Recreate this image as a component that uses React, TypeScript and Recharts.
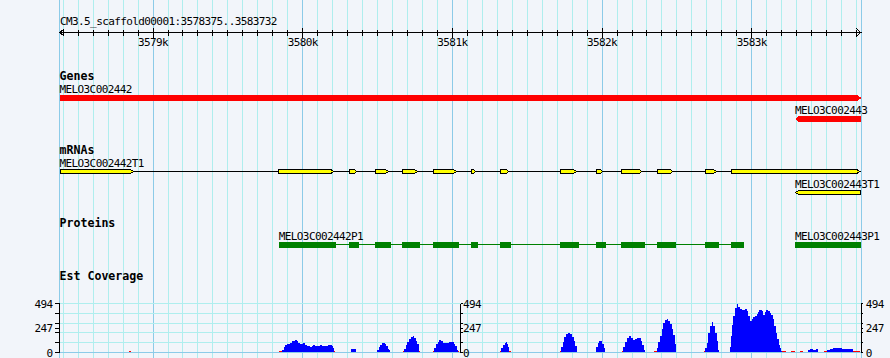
import React from 'react'
import { ComposedChart, XAxis, YAxis, CartesianGrid, ReferenceArea, ReferenceLine, Area } from 'recharts'

// ---- data ----
const SCAFFOLD = 'CM3.5_scaffold00001'
const VIEW_START = 3578375
const VIEW_END = 3583732

const scaleMajorTicks = [3579000, 3580000, 3581000, 3582000, 3583000]
const scaleMajorLabels = ['3579k', '3580k', '3581k', '3582k', '3583k']

const trackTitles = ['Genes', 'mRNAs', 'Proteins', 'Est Coverage']

const genes = [
  { name: 'MELO3C002442', start: 3578375, end: 3583732, strand: 1 },
  { name: 'MELO3C002443', start: 3583289, end: 3583732, strand: -1 },
]

const mrna2442T1: [number, number][] = [
  [3578375, 3578873],
  [3579837, 3580211],
  [3580309, 3580366],
  [3580483, 3580576],
  [3580665, 3580770],
  [3580870, 3581031],
  [3581124, 3581161],
  [3581318, 3581382],
  [3581719, 3581833],
  [3581960, 3582010],
  [3582127, 3582270],
  [3582367, 3582477],
  [3582688, 3582768],
  [3582862, 3583725],
]
const mrna2443T1: [number, number][] = [[3583289, 3583732]]

const cds2442P1: [number, number][] = [
  [3579840, 3580220],
  [3580309, 3580376],
  [3580483, 3580590],
  [3580663, 3580784],
  [3580870, 3581044],
  [3581124, 3581169],
  [3581318, 3581392],
  [3581719, 3581846],
  [3581960, 3582026],
  [3582127, 3582287],
  [3582367, 3582494],
  [3582688, 3582781],
  [3582862, 3582948],
]
const cds2443P1: [number, number][] = [[3583289, 3583732]]

const transcripts = [
  { name: 'MELO3C002442T1', strand: 1, exons: mrna2442T1 },
  { name: 'MELO3C002443T1', strand: -1, exons: mrna2443T1 },
]
const proteins = [
  { name: 'MELO3C002442P1', cds: cds2442P1 },
  { name: 'MELO3C002443P1', cds: cds2443P1 },
]

const coverageMax = 494
const coverageLabels = [0, 247, 494]

// [position, EST depth]
const estCoverage: [number, number][] = [
  [3578375, 0],
  [3578806, 10], [3578840, 18], [3578850, 10], [3578879, 0],
  [3579843, 12], [3579860, 30], [3579872, 55], [3579882, 75], [3579895, 88], [3579915, 100], [3579930, 112],
  [3579948, 122], [3579960, 112], [3579970, 100], [3579982, 88], [3579993, 82], [3580002, 95], [3580012, 80],
  [3580027, 68], [3580040, 62], [3580049, 60], [3580060, 70], [3580069, 75], [3580082, 68], [3580093, 62],
  [3580105, 70], [3580116, 75], [3580126, 70], [3580136, 68], [3580148, 62], [3580160, 62], [3580170, 72],
  [3580182, 75], [3580193, 65], [3580204, 45], [3580210, 12], [3580216, 0],
  [3580316, 10], [3580323, 34], [3580356, 10], [3580365, 0],
  [3580490, 10], [3580497, 30], [3580507, 55], [3580517, 75], [3580527, 92], [3580537, 95], [3580547, 82],
  [3580557, 62], [3580567, 40], [3580575, 22], [3580583, 0],
  [3580668, 12], [3580675, 40], [3580688, 75], [3580700, 105], [3580712, 135], [3580725, 155], [3580735, 163],
  [3580745, 150], [3580755, 120], [3580765, 85], [3580775, 45], [3580780, 12], [3580784, 0],
  [3580872, 12], [3580880, 50], [3580892, 85], [3580903, 110], [3580913, 122], [3580925, 112], [3580938, 100],
  [3580951, 92], [3580963, 98], [3580975, 104], [3580995, 105], [3581008, 90], [3581018, 65], [3581029, 30],
  [3581035, 12], [3581042, 0],
  [3581128, 6], [3581158, 0],
  [3581318, 12], [3581327, 45], [3581338, 80], [3581350, 100], [3581358, 102], [3581366, 90], [3581374, 60],
  [3581380, 12], [3581390, 0],
  [3581719, 14], [3581727, 60], [3581737, 110], [3581748, 155], [3581760, 185], [3581774, 197], [3581786, 188],
  [3581798, 160], [3581810, 120], [3581822, 70], [3581830, 30], [3581835, 0],
  [3581953, 10], [3581960, 60], [3581970, 100], [3581980, 118], [3581990, 115], [3582000, 90], [3582010, 50],
  [3582017, 12], [3582022, 0],
  [3582131, 12], [3582140, 60], [3582152, 110], [3582165, 145], [3582178, 163], [3582192, 145], [3582209, 122],
  [3582222, 132], [3582235, 145], [3582245, 146], [3582258, 120], [3582270, 75], [3582280, 25], [3582287, 0],
  [3582347, 12], [3582365, 50], [3582376, 102], [3582387, 170], [3582398, 241], [3582409, 299], [3582420, 325],
  [3582432, 335], [3582443, 318], [3582454, 292], [3582465, 240], [3582476, 173], [3582485, 90], [3582492, 0],
  [3582681, 12], [3582690, 50], [3582699, 95], [3582710, 197], [3582721, 272], [3582733, 309], [3582743, 265],
  [3582755, 197], [3582766, 112], [3582777, 27], [3582783, 0],
  [3582856, 60], [3582860, 163], [3582870, 280], [3582877, 367], [3582888, 451], [3582900, 494], [3582910, 462],
  [3582922, 440], [3582933, 432], [3582944, 428], [3582955, 440], [3582966, 418], [3582977, 367], [3582988, 316],
  [3583000, 333], [3583010, 360], [3583022, 372], [3583033, 384], [3583043, 405], [3583051, 428], [3583059, 425],
  [3583067, 418], [3583077, 374], [3583086, 405], [3583095, 428], [3583103, 425], [3583111, 418], [3583122, 394],
  [3583131, 380], [3583140, 340], [3583150, 270], [3583160, 200], [3583170, 140], [3583180, 80], [3583188, 45],
  [3583195, 20], [3583202, 12],
  [3583230, 8], [3583260, 12], [3583290, 10], [3583322, 18], [3583344, 10], [3583378, 24], [3583390, 34],
  [3583410, 26], [3583430, 32], [3583445, 10], [3583480, 14], [3583501, 30], [3583520, 40], [3583545, 45],
  [3583575, 42], [3583600, 40], [3583630, 38], [3583655, 34], [3583679, 12], [3583700, 16], [3583725, 8],
  [3583732, 0],
]

// ---- layout / style ----
const W = 890
const H = 358
const PLOT_L = 59.5
const PLOT_R = 28.7
const BG = '#f2f5fa'
const GRID_MINOR = '#afeeee'
const GRID_MAJOR = '#8ccbe8'
const LOW_DEPTH = 20

const mono: React.CSSProperties = {
  fontFamily: '"DejaVu Sans Mono", monospace',
  fontSize: 11,
  letterSpacing: -0.6,
  fill: '#000',
}
const monoBold: React.CSSProperties = {
  fontFamily: '"DejaVu Sans Mono", monospace',
  fontSize: 11.6,
  fontWeight: 'bold',
  fill: '#000',
}

const minorTicks: number[] = []
for (let p = Math.ceil(VIEW_START / 100) * 100; p < VIEW_END; p += 100) minorTicks.push(p)

const coverageGrid = [0, 1, 2, 3, 4, 5].map(i => (coverageMax * i) / 5)
const coverageTicks = [...coverageGrid, 247].sort((a, b) => a - b)

const coverageData = estCoverage.map(([pos, depth]) => ({
  pos,
  high: depth >= LOW_DEPTH ? depth : 0,
  low: depth < LOW_DEPTH ? depth : 0,
}))

const domainX: [number, number] = [VIEW_START, VIEW_END]
const edgeData = [{ pos: VIEW_START }, { pos: VIEW_END }]

// ---- glyphs ----
function ScaleTick(props: any) {
  const { x, y, payload } = props
  const v = payload.value
  if (v === VIEW_START)
    return <path d={`M${x + 5},${y - 4}L${x + 0.5},${y}L${x + 5},${y + 4}`} stroke="#000" fill="none" />
  if (v === VIEW_END)
    return <path d={`M${x - 5},${y - 4}L${x - 0.5},${y}L${x - 5},${y + 4}`} stroke="#000" fill="none" />
  const i = scaleMajorTicks.indexOf(v)
  if (i >= 0)
    return (
      <g>
        <line x1={x} x2={x} y1={y - 5} y2={y + 5} stroke="#000" />
        <text x={x} y={y + 13.5} textAnchor="middle" style={mono}>{scaleMajorLabels[i]}</text>
      </g>
    )
  return <line x1={x} x2={x} y1={y - 3} y2={y + 3} stroke="#000" />
}

function CoverageTick(props: any) {
  const { x, y, payload, textAnchor } = props
  if (!coverageLabels.includes(payload.value)) return null
  return <text x={x} y={y + 4} textAnchor={textAnchor} style={mono}>{payload.value}</text>
}

function FeatureLabel({ x, y, text }: { x: number; y: number; text?: string }) {
  if (!text) return null
  return <text x={x} y={y - 2.5} style={mono}>{text}</text>
}

function GeneGlyph(p: any) {
  const { x, y, width, height, strand, label } = p
  const tip = 4
  const r = x + width, b = y + height, m = y + height / 2
  const d = strand > 0
    ? `M${x},${y}H${r - tip}L${r},${m}L${r - tip},${b}H${x}Z`
    : `M${r},${y}H${x + tip}L${x},${m}L${x + tip},${b}H${r}Z`
  return (
    <g>
      <path d={d} fill="#ff0000" />
      <FeatureLabel x={x} y={y} text={label} />
    </g>
  )
}

function ExonGlyph(p: any) {
  const { x, y, width, height, strand, label } = p
  const tip = 3
  const l = x + 0.5, r = x + width - 0.5, t = y + 0.5, b = y + height - 0.5, m = y + height / 2
  const d = strand > 0
    ? `M${l},${t}H${r - tip}L${r},${m}L${r - tip},${b}H${l}Z`
    : `M${r},${t}H${l + tip}L${l},${m}L${l + tip},${b}H${r}Z`
  return (
    <g>
      <path d={d} fill="#ffff00" stroke="#000" />
      <FeatureLabel x={x} y={y} text={label} />
    </g>
  )
}

function CdsGlyph(p: any) {
  const { x, y, width, height, label } = p
  return (
    <g>
      <rect x={x} y={y} width={width} height={height} fill="#008000" />
      <FeatureLabel x={x} y={y} text={label} />
    </g>
  )
}

function ConnectorGlyph(p: any) {
  const { x, y, width, height, color } = p
  const ly = y + Math.ceil(height / 2) - 0.5
  return <line x1={x} x2={x + width} y1={ly} y2={ly} stroke={color} />
}

function TrackRow({ top, height, children }: { top: number; height: number; children: React.ReactNode }) {
  const pad = 16
  return (
    <div style={{ position: 'absolute', left: 0, top: top - pad }}>
      <ComposedChart width={W} height={height + pad} data={edgeData}
        margin={{ top: pad, right: PLOT_R, bottom: 0, left: PLOT_L }}>
        <XAxis type="number" dataKey="pos" domain={domainX} hide allowDataOverflow />
        <YAxis type="number" domain={[0, 1]} hide allowDataOverflow />
        {children}
      </ComposedChart>
    </div>
  )
}

function GridLayer({ ticks, color }: { ticks: number[]; color: string }) {
  return (
    <div style={{ position: 'absolute', left: 0, top: 0 }}>
      <ComposedChart width={W} height={H} data={edgeData}
        margin={{ top: 0, right: PLOT_R, bottom: 0, left: PLOT_L }}>
        <XAxis type="number" dataKey="pos" domain={domainX} ticks={ticks} interval={0} hide allowDataOverflow />
        <YAxis type="number" domain={[0, 1]} hide />
        <CartesianGrid horizontal={false} stroke={color} />
      </ComposedChart>
    </div>
  )
}

const COV_TOP = 290
const COV_H = 68
const covMargin = { top: 13.5, bottom: 5.5 }

// horizontal grid of the coverage panel, placed through the y-axis scale
const coverageGridLines = (props: any) => {
  const scale = props?.yAxis?.scale
  if (typeof scale === 'function') return coverageGrid.map(v => scale(v))
  const top = props.offset.top
  const h = props.offset.height
  return coverageGrid.map(v => top + h - (v / coverageMax) * h)
}

export default function App() {
  const [gene2442, gene2443] = genes
  return (
    <div style={{ position: 'absolute', left: 0, top: 0, width: W, height: H, background: BG, overflow: 'hidden' }}>
      <style>{`.gb svg line, .gb svg rect, .gb svg path { shape-rendering: crispEdges; }`}</style>
      <div className="gb">
        <GridLayer ticks={[VIEW_START, ...minorTicks]} color={GRID_MINOR} />
        <GridLayer ticks={scaleMajorTicks} color={GRID_MAJOR} />

        {/* ruler */}
        <div style={{ position: 'absolute', left: 0, top: 0 }}>
          <ComposedChart width={W} height={60} data={edgeData}
            margin={{ top: 0, right: PLOT_R, bottom: 8, left: PLOT_L }}>
            <XAxis type="number" dataKey="pos" domain={domainX} allowDataOverflow
              ticks={[VIEW_START, ...minorTicks, VIEW_END]} interval={0}
              tickSize={0} tickMargin={0} height={19.5} stroke="#000" tick={ScaleTick} />
            <YAxis hide />
          </ComposedChart>
        </div>

        {/* Genes */}
        <TrackRow top={95} height={6}>
          <ReferenceArea x1={gene2442.start} x2={gene2442.end} y1={0} y2={1}
            shape={(p: any) => <GeneGlyph {...p} strand={gene2442.strand} label={gene2442.name} />} />
        </TrackRow>
        <TrackRow top={116} height={6}>
          <ReferenceArea x1={gene2443.start} x2={gene2443.end} y1={0} y2={1}
            shape={(p: any) => <GeneGlyph {...p} strand={gene2443.strand} label={gene2443.name} />} />
        </TrackRow>

        {/* mRNAs */}
        {transcripts.map((t, ti) => (
          <TrackRow key={t.name} top={ti === 0 ? 169 : 190} height={5}>
            <ReferenceArea x1={t.exons[0][0]} x2={t.exons[t.exons.length - 1][1]} y1={0} y2={1}
              shape={(p: any) => <ConnectorGlyph {...p} color="#000" />} />
            {t.exons.map(([s, e], i) => (
              <ReferenceArea key={i} x1={s} x2={e} y1={0} y2={1}
                shape={(p: any) => <ExonGlyph {...p} strand={t.strand} label={i === 0 ? t.name : undefined} />} />
            ))}
          </TrackRow>
        ))}

        {/* Proteins */}
        <TrackRow top={242} height={6}>
          {proteins.map(pr => (
            <ReferenceArea key={pr.name + '-line'} x1={pr.cds[0][0]} x2={pr.cds[pr.cds.length - 1][1]} y1={0} y2={1}
              shape={(p: any) => <ConnectorGlyph {...p} color="#008000" />} />
          ))}
          {proteins.flatMap(pr =>
            pr.cds.map(([s, e], i) => (
              <ReferenceArea key={pr.name + i} x1={s} x2={e} y1={0} y2={1}
                shape={(p: any) => <CdsGlyph {...p} label={i === 0 ? pr.name : undefined} />} />
            ))
          )}
        </TrackRow>

        {/* Est Coverage */}
        <div style={{ position: 'absolute', left: 0, top: COV_TOP }}>
          <ComposedChart width={W} height={COV_H} data={coverageData}
            margin={{ top: covMargin.top, right: 0, bottom: covMargin.bottom, left: 0 }}>
            <XAxis type="number" dataKey="pos" domain={domainX} hide allowDataOverflow />
            <YAxis type="number" domain={[0, coverageMax]} ticks={coverageTicks} interval={0}
              width={PLOT_L} tickSize={5} tickMargin={2} stroke="#000" tick={CoverageTick} allowDataOverflow />
            <YAxis yAxisId="right" orientation="right" type="number" domain={[0, coverageMax]} ticks={coverageTicks}
              interval={0} width={PLOT_R} tickSize={2} tickMargin={2.5} stroke="#000" tick={CoverageTick} allowDataOverflow />
            <CartesianGrid vertical={false} stroke={GRID_MINOR} horizontalCoordinatesGenerator={coverageGridLines} />
            <ReferenceLine y={0} stroke={GRID_MAJOR} />
            <Area type="stepAfter" dataKey="high" stroke="none" fill="#0000ff" fillOpacity={1}
              isAnimationActive={false} />
            <Area type="stepAfter" dataKey="low" stroke="none" fill="#ff0000" fillOpacity={1}
              isAnimationActive={false} />
          </ComposedChart>
        </div>
        {/* middle axis of the coverage panel */}
        <div style={{ position: 'absolute', left: 0, top: COV_TOP }}>
          <ComposedChart width={W} height={COV_H} data={coverageData}
            margin={{ top: covMargin.top, right: 0, bottom: covMargin.bottom, left: PLOT_L }}>
            <XAxis type="number" dataKey="pos" domain={domainX} hide allowDataOverflow />
            <YAxis orientation="right" type="number" domain={[0, coverageMax]} ticks={coverageTicks} interval={0}
              width={W - 460.5} tickSize={2} tickMargin={0.5} stroke="#000" tick={CoverageTick} allowDataOverflow />
          </ComposedChart>
        </div>

        {/* titles */}
        <svg width={W} height={H} style={{ position: 'absolute', left: 0, top: 0 }}>
          <text x={60} y={25} style={mono}>{`${SCAFFOLD}:${VIEW_START}..${VIEW_END}`}</text>
          {trackTitles.map((t, i) => (
            <text key={t} x={59.5} y={[80, 154, 227, 280][i]} style={monoBold}>{t}</text>
          ))}
        </svg>
      </div>
    </div>
  )
}
